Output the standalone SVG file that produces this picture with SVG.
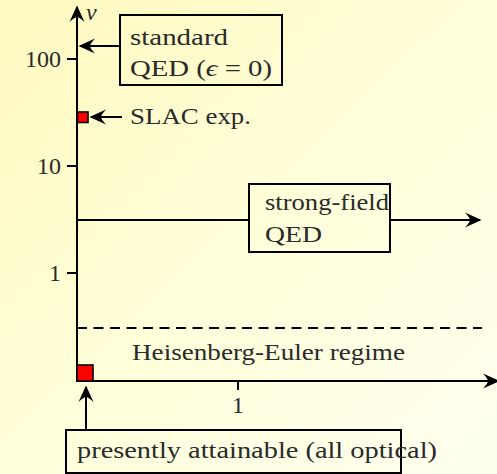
<svg xmlns="http://www.w3.org/2000/svg" width="497" height="474" viewBox="0 0 497 474">
  <defs>
    <linearGradient id="bg" x1="0" y1="0" x2="1" y2="1">
      <stop offset="0" stop-color="#FFF8BE"/>
      <stop offset="0.5" stop-color="#FFFFDA"/>
      <stop offset="1" stop-color="#FFFFF0"/>
    </linearGradient>
    <marker id="arr" markerUnits="userSpaceOnUse" markerWidth="20" markerHeight="20" viewBox="-17 -9 20 18" refX="0" refY="0" orient="auto">
      <path d="M1.5,0 L-15,-7.5 Q-10,-2 -10,0 Q-10,2 -15,7.5 Z" fill="#000"/>
    </marker>
    <style>
      text { font-family: "Liberation Serif", "DejaVu Serif", serif; font-size: 24px; fill: #2a2a2a; }
      .ln { stroke: #000; stroke-width: 2; fill: none; }
      .box { stroke: #000; stroke-width: 2; fill: none; }
      .red { fill: #FF0000; stroke: #000; stroke-width: 1.6; }
      .tick { stroke: #000; stroke-width: 2; }
    </style>
  </defs>
  <rect x="0" y="0" width="497" height="474" fill="url(#bg)"/>

  <g id="connectors">
    <line class="ln" x1="77" y1="382" x2="77" y2="7" marker-end="url(#arr)"/>
    <line class="ln" x1="76" y1="381" x2="498" y2="381" marker-end="url(#arr)"/>
    <line class="ln" x1="77" y1="220" x2="249" y2="220"/>
    <line class="ln" x1="390" y1="220" x2="480" y2="220" marker-end="url(#arr)"/>
    <line class="ln" x1="77" y1="328" x2="482" y2="328" stroke-dasharray="10,6.5"/>
    <line class="ln" x1="120" y1="46" x2="80" y2="46" marker-end="url(#arr)"/>
    <line class="ln" x1="122" y1="117" x2="91" y2="117" marker-end="url(#arr)"/>
    <line class="ln" x1="86" y1="430" x2="86" y2="387" marker-end="url(#arr)"/>
  </g>

  <g id="axes-ticks" font-family="'Liberation Serif', 'DejaVu Serif', serif">
    <line class="tick" x1="67" y1="59" x2="77" y2="59"/>
    <line class="tick" x1="67" y1="166" x2="77" y2="166"/>
    <line class="tick" x1="67" y1="273" x2="77" y2="273"/>
    <line class="tick" x1="238" y1="381" x2="238" y2="390"/>
    <text x="61" y="67" text-anchor="end">100</text>
    <text x="61" y="174" text-anchor="end">10</text>
    <text x="61" y="281" text-anchor="end">1</text>
    <text x="238" y="413" text-anchor="middle">1</text>
    <text x="86" y="20" font-style="italic">ν</text>
  </g>

  <g id="standard-qed" font-family="'Liberation Serif', 'DejaVu Serif', serif">
    <rect class="box" x="120" y="15" width="162" height="70"/>
    <text x="130" y="45" textLength="98" lengthAdjust="spacingAndGlyphs">standard</text>
    <text x="130" y="76" textLength="142" lengthAdjust="spacingAndGlyphs">QED (<tspan font-style="italic">ϵ</tspan> = 0)</text>
  </g>

  <g id="slac" font-family="'Liberation Serif', 'DejaVu Serif', serif">
    <rect class="red" x="77.5" y="112" width="10.5" height="10.5"/>
    <text x="130" y="124" textLength="121" lengthAdjust="spacingAndGlyphs">SLAC exp.</text>
  </g>

  <g id="strong-field" font-family="'Liberation Serif', 'DejaVu Serif', serif">
    <rect class="box" x="249" y="184" width="141" height="68"/>
    <text x="265" y="210" textLength="124" lengthAdjust="spacingAndGlyphs">strong-field</text>
    <text x="265" y="242" textLength="57" lengthAdjust="spacingAndGlyphs">QED</text>
  </g>

  <g id="heisenberg-euler" font-family="'Liberation Serif', 'DejaVu Serif', serif">
    <text x="132" y="360" textLength="273" lengthAdjust="spacingAndGlyphs">Heisenberg-Euler regime</text>
  </g>

  <g id="attainable" font-family="'Liberation Serif', 'DejaVu Serif', serif">
    <rect class="red" x="77" y="365" width="16" height="16"/>
    <rect class="box" x="66" y="430" width="335" height="43"/>
    <text x="77" y="458" textLength="360" lengthAdjust="spacingAndGlyphs">presently attainable (all optical)</text>
  </g>
</svg>
